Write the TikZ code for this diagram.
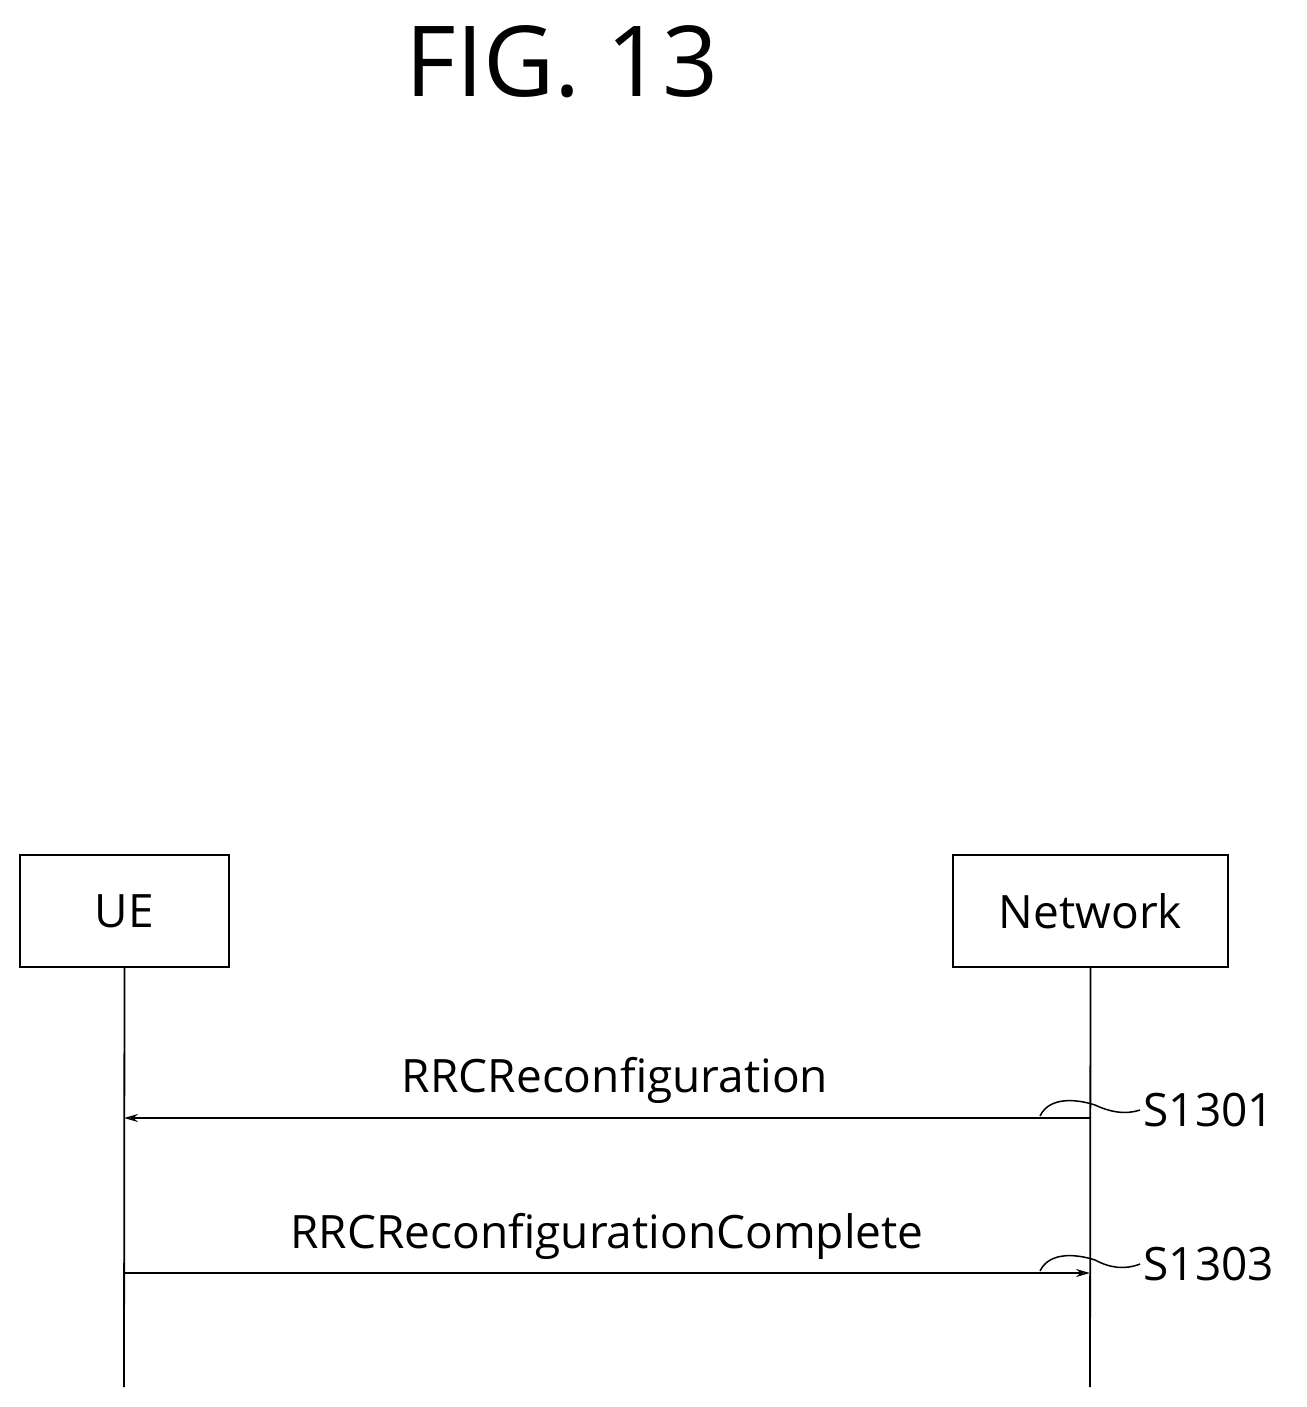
\documentclass[tikz,border=0pt]{standalone}
\usepackage{fontspec}
\setmainfont{Open Sans}
\usetikzlibrary{arrows.meta}
\begin{document}
\begin{tikzpicture}[x=1pt,y=-1pt,
  box/.style={draw,line width=2pt,minimum width=#1,minimum height=112pt,inner sep=0pt,font=\fontsize{46}{50}\selectfont},
  life/.style={line width=1.8pt},
  msg/.style={line width=1.5pt,-{Stealth[length=14pt,width=8pt,open]}},
  lbl/.style={font=\fontsize{46}{50}\selectfont},
  lead/.style={line width=1.5pt}]
\useasboundingbox (0,0) rectangle (1306,1407);
\node[font=\fontsize{98}{100}\selectfont] (title) at (562,62) {FIG. 13};
\node[box=209pt] (ue) at (124.5,911) {UE};
\node[box=275pt] (nw) at (1090.5,911) {Network};
\coordinate (ueb) at (124,1387);
\coordinate (nwb) at (1090,1387);
\draw[life] (ue.south) -- (ueb);
\draw[life] (nw.south) -- (nwb);
\coordinate (m1s) at (1090,1118); \coordinate (m1e) at (124,1118);
\coordinate (m2s) at (124,1273); \coordinate (m2e) at (1090,1273);
\draw[msg] (m1s) -- (m1e);
\draw[msg] (m2s) -- (m2e);
\node[lbl] (l1) at (615,1080) {RRCReconfiguration};
\node[lbl] (l2) at (607,1236) {RRCReconfigurationComplete};
\node[lbl,anchor=west] (s1) at (1140,1110) {S1301};
\node[lbl,anchor=west] (s2) at (1140,1264) {S1303};
\coordinate (a1) at (1040,1116);
\coordinate (a2) at (1040,1271);
\draw[lead] (a1) .. controls (1050,1095) and (1080,1100) .. (1095,1105) .. controls (1110,1112) and (1125,1115) .. (s1.west);
\draw[lead] (a2) .. controls (1050,1250) and (1080,1255) .. (1095,1260) .. controls (1110,1268) and (1125,1270) .. (s2.west);
\end{tikzpicture}
\end{document}
